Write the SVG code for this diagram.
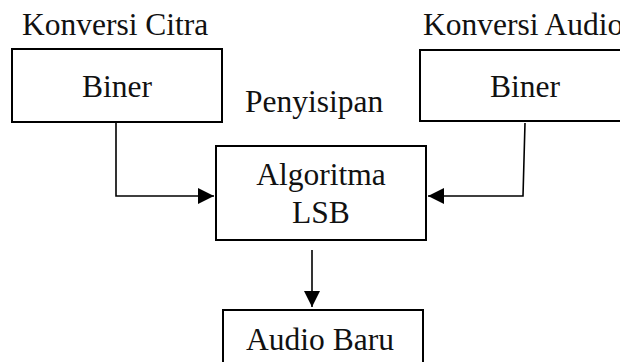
<svg xmlns="http://www.w3.org/2000/svg" width="620" height="362" viewBox="0 0 620 362">
  <style>
    .box { fill: #ffffff; stroke: #000000; stroke-width: 2; }
    .lbl { font-family: 'Liberation Serif', 'DejaVu Serif', serif; font-size: 31.5px; fill: #111111; }
    .mid { text-anchor: middle; }
    .wire { fill: none; stroke: #000000; stroke-width: 1.6; }
  </style>
  <defs>
    <marker id="arrow" viewBox="0 0 16 16" refX="16" refY="8" markerWidth="16" markerHeight="16" markerUnits="userSpaceOnUse" orient="auto">
      <path d="M0,0 L16,8 L0,16 Z" fill="#000000"/>
    </marker>
  </defs>
  <rect width="620" height="362" fill="#ffffff"/>

  <!-- image to binary conversion -->
  <g id="konversi-citra">
    <text class="lbl" x="22" y="35">Konversi Citra</text>
    <rect class="box" x="12" y="49" width="210" height="73"/>
    <text class="lbl mid" x="117" y="97">Biner</text>
  </g>

  <!-- audio to binary conversion -->
  <g id="konversi-audio">
    <text class="lbl" x="423" y="35">Konversi Audio</text>
    <rect class="box" x="420" y="50" width="210" height="71"/>
    <text class="lbl mid" x="525" y="97">Biner</text>
  </g>

  <!-- embedding step -->
  <g id="penyisipan">
    <text class="lbl" x="245" y="112">Penyisipan</text>
    <rect class="box" x="216" y="146" width="210" height="94"/>
    <text class="lbl mid" x="321" y="185">Algoritma</text>
    <text class="lbl mid" x="321" y="223">LSB</text>
  </g>

  <!-- resulting audio -->
  <g id="audio-baru">
    <rect class="box" x="223" y="310" width="200" height="60"/>
    <text class="lbl mid" x="320" y="350">Audio Baru</text>
  </g>

  <g id="connectors">
    <path class="wire" d="M116,123 L116,196 L214,196" marker-end="url(#arrow)"/>
    <path class="wire" d="M525,123 L523,196 L428,196" marker-end="url(#arrow)"/>
    <path class="wire" d="M312,250 L312,307" marker-end="url(#arrow)"/>
  </g>
</svg>
